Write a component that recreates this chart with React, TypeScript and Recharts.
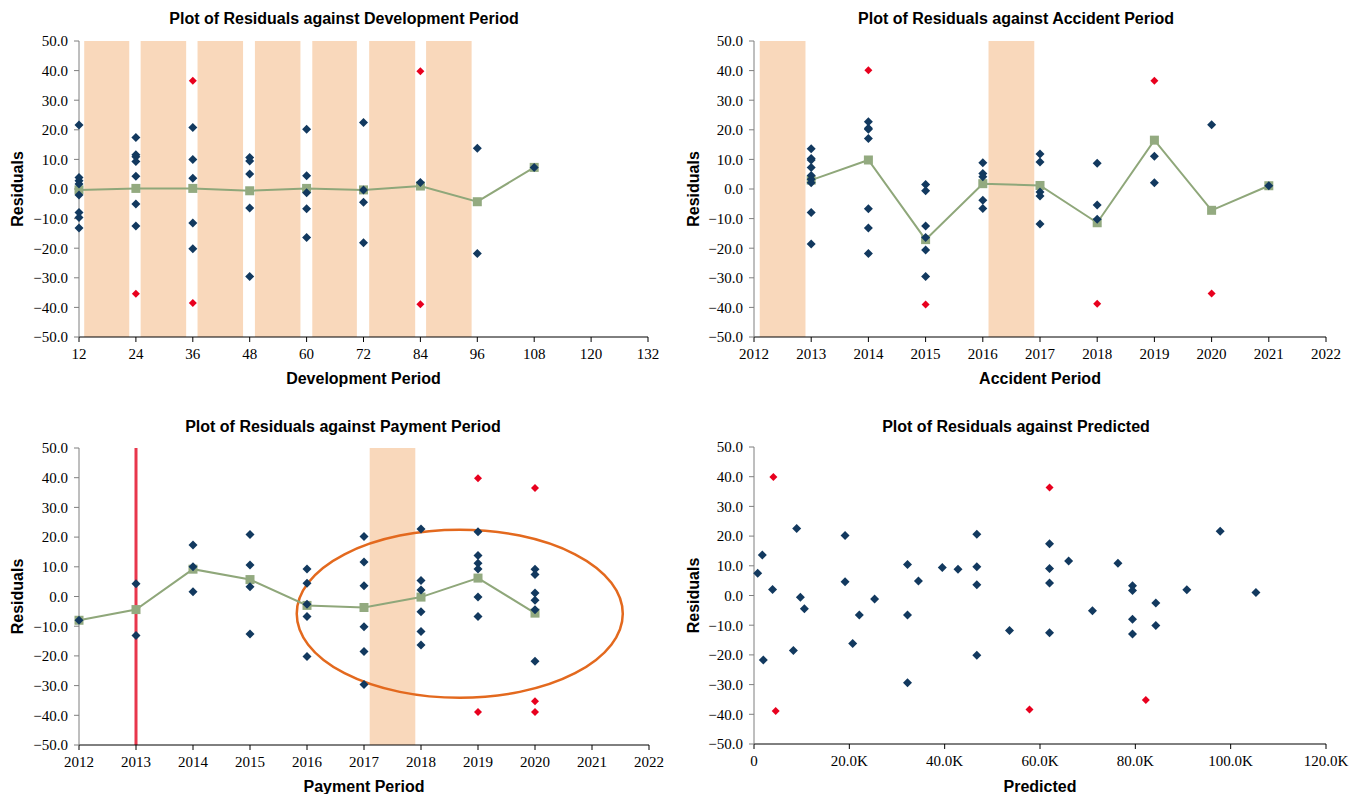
import React from "react";
import {
  ScatterChart,
  Scatter,
  XAxis,
  YAxis,
  ReferenceArea,
  ReferenceLine,
} from "recharts";

// ---- Development period panel ----
const devPeriods = [12, 24, 36, 48, 60, 72, 84, 96, 108];
const devResiduals = [
  [21.6, 3.9, 2.8, 1.7, -2.0, -7.9, -9.6, -13.2],
  [17.4, 11.6, 10.9, 9.3, 4.3, -5.1, -12.5],
  [20.8, 10.0, 3.6, -11.5, -20.2],
  [10.6, 9.5, 5.1, -6.4, -29.6],
  [20.2, 4.5, -1.3, -6.7, -16.4],
  [22.5, -0.3, -4.5, -18.2],
  [2.2],
  [13.8, -21.8],
  [7.3],
];
const devOutliers = [[], [-35.4], [36.6, -38.5], [], [], [], [39.8, -38.9], [], []];
const devMeans = [-0.3, 0.2, 0.2, -0.6, 0.2, -0.3, 1.0, -4.3, 7.3];
const devBands = [
  [13.1, 22.6],
  [25.0, 34.6],
  [37.0, 46.6],
  [49.1, 58.7],
  [61.2, 70.6],
  [73.2, 82.9],
  [85.2, 94.8],
];
const devTicks = [12, 24, 36, 48, 60, 72, 84, 96, 108, 120, 132];

// ---- Accident period panel ----
const accPeriods = [2013, 2014, 2015, 2016, 2017, 2018, 2019, 2020, 2021];
const accResiduals = [
  [13.6, 10.3, 9.8, 7.3, 4.6, 3.3, 2.1, -7.9, -18.6],
  [22.7, 20.5, 20.2, 17.1, -6.7, -13.2, -21.8],
  [1.5, -0.6, -12.5, -16.4, -20.6, -29.6],
  [8.9, 5.2, 4.1, -3.8, -6.6],
  [11.8, 9.1, -1.0, -2.4, -11.8],
  [8.7, -5.4, -10.2],
  [11.1, 2.1],
  [21.7],
  [1.1],
];
const accOutliers = [[], [40.1], [-39.0], [], [], [-38.8], [36.6], [-35.3], []];
const accMeans = [3.0, 9.8, -17.1, 1.8, 1.2, -11.4, 16.5, -7.2, 1.1];
const accBands = [
  [2012.1, 2012.9],
  [2016.1, 2016.9],
];

// ---- Payment period panel ----
const payPeriods = [2012, 2013, 2014, 2015, 2016, 2017, 2018, 2019, 2020];
const payResiduals = [
  [-8.0],
  [4.3, -13.1],
  [17.3, 10.0, 1.6],
  [20.9, 10.6, 3.3, -12.6],
  [9.3, 4.5, -2.6, -6.7, -20.2],
  [20.2, 11.6, 3.6, -10.2, -18.5, -29.6],
  [22.7, 5.4, 2.2, -5.1, -11.8, -16.3],
  [21.8, 13.8, 11.2, 9.3, -0.2, -6.7],
  [9.2, 7.4, 1.2, -1.3, -4.5, -21.8],
];
const payOutliers = [[], [], [], [], [], [], [], [39.8, -38.9], [36.5, -35.3, -38.9]];
const payMeans = [-8.0, -4.4, 9.2, 5.7, -3.0, -3.7, -0.2, 6.2, -5.6];
const payBands = [[2017.1, 2017.9]];
const payMarker = 2013;
// highlighted region: x from..to, residual from..to
const payEllipse = { x1: 2015.82, x2: 2021.54, y1: -34.1, y2: 22.5 };

const yearTicks = [2012, 2013, 2014, 2015, 2016, 2017, 2018, 2019, 2020, 2021, 2022];

// ---- Predicted panel (x in thousands) ----
const predX = [
  0.77, 1.75, 3.9, 1.96, 8.96, 8.26, 9.73, 10.57, 19.1, 19.1, 20.7, 22.1, 25.3, 32.2,
  32.2, 32.2, 34.5, 39.5, 42.8, 46.75, 46.75, 46.75, 46.75, 53.6, 62.0, 62.0, 62.0,
  62.0, 66.0, 71.0, 76.35, 79.4, 79.4, 79.4, 79.4, 84.3, 84.3, 90.8, 97.8, 105.3,
];
const predY = [
  7.5, 13.6, 2.0, -21.7, 22.6, -18.5, -0.6, -4.5, 20.2, 4.6, -16.2, -6.6, -1.2, 10.4,
  -6.6, -29.4, 4.9, 9.4, 8.8, 20.6, 9.7, 3.6, -20.1, -11.8, 17.4, 9.1, 4.2, -12.5,
  11.6, -5.1, 10.9, 3.3, 1.7, -8.0, -13.0, -2.5, -10.1, 1.9, 21.6, 1.0,
];
const predOutX = [4.06, 4.55, 57.8, 62.0, 82.2];
const predOutY = [39.9, -38.9, -38.4, 36.4, -35.2];
const predTicks = [0, 20, 40, 60, 80, 100, 120];

const residualTicks = [-50, -40, -30, -20, -10, 0, 10, 20, 30, 40, 50];

const NAVY = "#12395f";
const RED = "#e8001e";
const GREEN = "#8fa77a";
const BAND = "#f9d8bb";
const SANS = "'Liberation Sans', Arial, sans-serif";
const SERIF = "'Liberation Serif', 'Times New Roman', serif";

function groupPoints(periods: number[], groups: number[][]) {
  const out: { x: number; y: number }[] = [];
  periods.forEach((p, i) => groups[i].forEach((v) => out.push({ x: p, y: v })));
  return out;
}

function pairPoints(xs: number[], ys: number[]) {
  return xs.map((x, i) => ({ x, y: ys[i] }));
}

const fmtResidual = (v: number) => (v < 0 ? "\u2212" + Math.abs(v).toFixed(1) : v.toFixed(1));

function diamond(color: string, r: number) {
  return (props: any) => {
    const { cx, cy } = props;
    return <path d={`M${cx},${cy - r}L${cx + r},${cy}L${cx},${cy + r}L${cx - r},${cy}Z`} fill={color} />;
  };
}

function square(props: any) {
  const { cx, cy } = props;
  return <rect x={cx - 4.5} y={cy - 4.5} width={9} height={9} fill="#93aa80" />;
}

function ellipseShape(props: any) {
  const { x, y, width, height } = props;
  return (
    <ellipse
      cx={x + width / 2}
      cy={y + height / 2}
      rx={width / 2}
      ry={height / 2}
      fill="none"
      stroke="#e3691e"
      strokeWidth={2.5}
    />
  );
}

const tickStyle = { fill: "#000", fontSize: 15, fontFamily: SERIF };
const labelStyle = { fill: "#000", fontSize: 16, fontWeight: "bold", fontFamily: SANS };

interface PanelProps {
  left: number;
  top: number;
  width: number;
  height: number;
  plotTop: number;
  yWidth: number;
  right: number;
  xHeight: number;
  xLabelOffset: number;
  xDomain: [number, number];
  xTicks: number[];
  xFormat?: (v: number) => string;
  xLabel: string;
  bands?: number[][];
  points: { x: number; y: number }[];
  outliers: { x: number; y: number }[];
  means?: { x: number; y: number }[];
  children?: React.ReactNode;
}

function Panel(p: PanelProps) {
  return (
    <div style={{ position: "absolute", left: p.left, top: p.top }}>
      <ScatterChart
        width={p.width}
        height={p.height}
        margin={{ top: p.plotTop, right: p.right, bottom: 0, left: 0 }}
      >
        <XAxis
          type="number"
          dataKey="x"
          domain={p.xDomain}
          ticks={p.xTicks}
          interval={0}
          tickFormatter={p.xFormat}
          height={p.xHeight}
          stroke="#000"
          tickSize={5}
          tickMargin={6}
          tick={tickStyle}
          label={{ value: p.xLabel, position: "insideBottom", offset: p.xLabelOffset, style: labelStyle }}
        />
        <YAxis
          type="number"
          dataKey="y"
          domain={[-50, 50]}
          ticks={residualTicks}
          interval={0}
          tickFormatter={fmtResidual}
          width={p.yWidth}
          stroke="#7f7f7f"
          tickSize={5}
          tickMargin={6}
          tick={tickStyle}
          label={{
            value: "Residuals",
            angle: -90,
            position: "insideLeft",
            offset: 17,
            style: { ...labelStyle, textAnchor: "middle" },
          }}
        />
        {(p.bands || []).map((b, i) => (
          <ReferenceArea key={i} x1={b[0]} x2={b[1]} y1={-50} y2={50} fill={BAND} fillOpacity={1} stroke="none" />
        ))}
        {p.children}
        {p.means && (
          <Scatter
            data={p.means}
            line={{ stroke: GREEN, strokeWidth: 2 }}
            shape={square}
            isAnimationActive={false}
          />
        )}
        <Scatter data={p.points} shape={diamond(NAVY, 4.5)} isAnimationActive={false} />
        <Scatter data={p.outliers} shape={diamond(RED, 4)} isAnimationActive={false} />
      </ScatterChart>
    </div>
  );
}

function Title({ text, cx, top }: { text: string; cx: number; top: number }) {
  return (
    <div
      style={{
        position: "absolute",
        left: cx - 300,
        top,
        width: 600,
        textAlign: "center",
        fontFamily: SANS,
        fontWeight: "bold",
        fontSize: 16,
        lineHeight: "18px",
        color: "#000",
      }}
    >
      {text}
    </div>
  );
}

export default function App() {
  const kFormat = (v: number) => (v === 0 ? "0" : v.toFixed(1) + "K");
  return (
    <div
      style={{
        position: "fixed",
        left: 0,
        top: 0,
        width: 1353,
        height: 794,
        background: "#fff",
        overflow: "hidden",
      }}
    >
      <Panel
        left={0}
        top={0}
        width={676}
        height={400}
        plotTop={41}
        yWidth={79}
        right={28}
        xHeight={63}
        xLabelOffset={16}
        xDomain={[12, 132]}
        xTicks={devTicks}
        xLabel="Development Period"
        bands={devBands}
        points={groupPoints(devPeriods, devResiduals)}
        outliers={groupPoints(devPeriods, devOutliers)}
        means={pairPoints(devPeriods, devMeans)}
      />
      <Panel
        left={676}
        top={0}
        width={677}
        height={400}
        plotTop={41}
        yWidth={78}
        right={27}
        xHeight={63}
        xLabelOffset={16}
        xDomain={[2012, 2022]}
        xTicks={yearTicks}
        xLabel="Accident Period"
        bands={accBands}
        points={groupPoints(accPeriods, accResiduals)}
        outliers={groupPoints(accPeriods, accOutliers)}
        means={pairPoints(accPeriods, accMeans)}
      />
      <Panel
        left={0}
        top={400}
        width={676}
        height={394}
        plotTop={48}
        yWidth={79}
        right={27}
        xHeight={49}
        xLabelOffset={2}
        xDomain={[2012, 2022]}
        xTicks={yearTicks}
        xLabel="Payment Period"
        bands={payBands}
        points={groupPoints(payPeriods, payResiduals)}
        outliers={groupPoints(payPeriods, payOutliers)}
        means={pairPoints(payPeriods, payMeans)}
      >
        <ReferenceLine x={payMarker} stroke="#e8374c" strokeWidth={3} />
        <ReferenceArea
          x1={payEllipse.x1}
          x2={payEllipse.x2}
          y1={payEllipse.y1}
          y2={payEllipse.y2}
          shape={ellipseShape}
        />
      </Panel>
      <Panel
        left={676}
        top={400}
        width={677}
        height={394}
        plotTop={47}
        yWidth={78}
        right={27}
        xHeight={50}
        xLabelOffset={2}
        xDomain={[0, 120]}
        xTicks={predTicks}
        xFormat={kFormat}
        xLabel="Predicted"
        points={pairPoints(predX, predY)}
        outliers={pairPoints(predOutX, predOutY)}
      />
      <Title text="Plot of Residuals against Development Period" cx={344} top={10} />
      <Title text="Plot of Residuals against Accident Period" cx={1016} top={10} />
      <Title text="Plot of Residuals against Payment Period" cx={343} top={418} />
      <Title text="Plot of Residuals against Predicted" cx={1016} top={418} />
    </div>
  );
}
